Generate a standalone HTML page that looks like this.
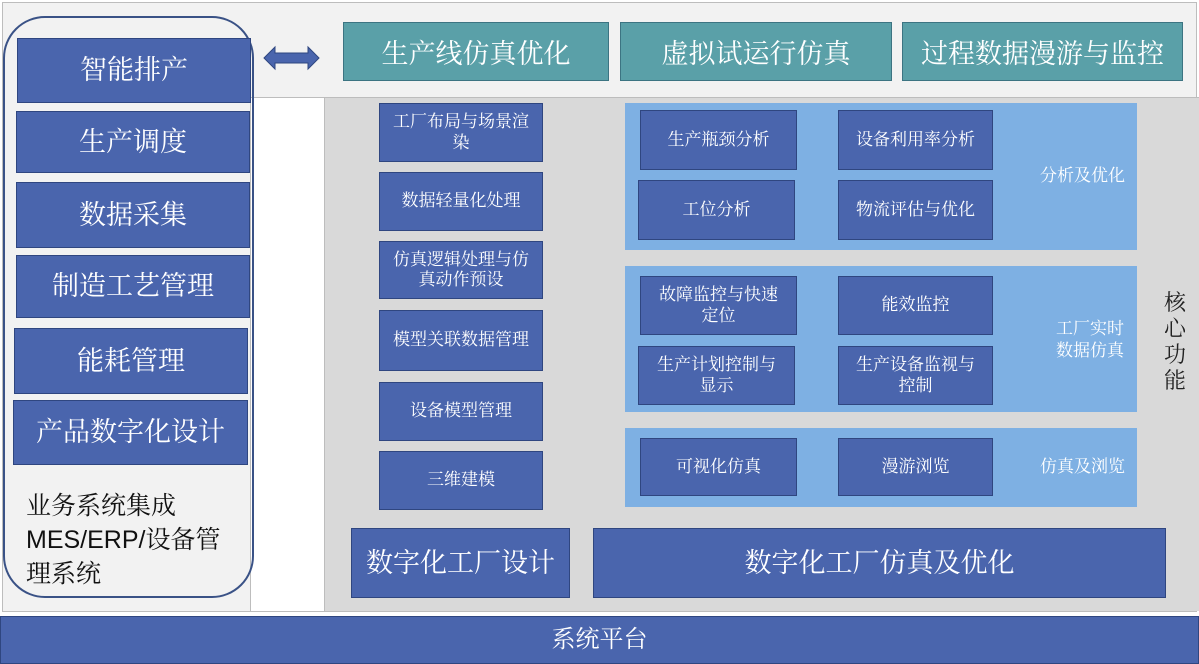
<!DOCTYPE html>
<html><head><meta charset="utf-8"><style>
body{margin:0;width:1199px;height:664px;position:relative;background:#fff;font-family:"Liberation Serif","Noto Serif CJK SC",serif;overflow:hidden}
.a{position:absolute;box-sizing:border-box}
.b{background:#4a65ad;border:1px solid #2f4680;color:#fff;display:flex;align-items:center;justify-content:center;text-align:center;line-height:1.2}
.t{background:#5aa0a8;border:1px solid #3c7482;color:#fff;display:flex;align-items:center;justify-content:center;font-size:27px}
.lb{background:#7eb0e3}
.lab{color:#fff;font-size:17px;text-align:center;line-height:1.3}
.s{font-size:17px}
.L{font-size:27px}
</style></head><body>
<div class="a" style="left:2px;top:2px;width:1195px;height:610px;background:#f2f2f2;border:1px solid #bdbdbd"></div>
<div class="a" style="left:250px;top:97px;width:75px;height:514px;background:#fff;border-top:1px solid #bdbdbd;border-left:1px solid #bdbdbd"></div>
<div class="a" style="left:324px;top:97px;width:875px;height:514px;background:#d9d9d9;border-top:1px solid #bdbdbd;border-left:1px solid #bdbdbd"></div>
<div class="a" style="left:3px;top:16px;width:251px;height:582px;border:2px solid #3a5286;border-radius:42px"></div>

<div class="a b L" style="left:17px;top:38px;width:234px;height:65px">智能排产</div>
<div class="a b L" style="left:16px;top:111px;width:234px;height:62px">生产调度</div>
<div class="a b L" style="left:16px;top:182px;width:234px;height:66px">数据采集</div>
<div class="a b L" style="left:16px;top:255px;width:234px;height:63px">制造工艺管理</div>
<div class="a b L" style="left:14px;top:328px;width:234px;height:66px">能耗管理</div>
<div class="a b L" style="left:13px;top:400px;width:235px;height:65px">产品数字化设计</div>
<div class="a" style="left:26px;top:490px;width:215px;font-size:25px;line-height:32px;color:#111;font-family:'Liberation Sans','Noto Serif CJK SC',sans-serif">业务系统集成<br>MES/ERP/<span style="font-family:'Noto Serif CJK SC',serif">设备管</span><br><span style="font-family:'Noto Serif CJK SC',serif">理系统</span></div>

<svg class="a" style="left:262px;top:45px" width="60" height="26"><polygon points="2,13 13,2 13,8 46,8 46,2 57,13 46,24 46,18 13,18 13,24" fill="#4a65ad" stroke="#2f4680"/></svg>

<div class="a t" style="left:343px;top:22px;width:266px;height:59px">生产线仿真优化</div>
<div class="a t" style="left:620px;top:22px;width:272px;height:59px">虚拟试运行仿真</div>
<div class="a t" style="left:902px;top:22px;width:281px;height:59px">过程数据漫游与监控</div>

<div class="a b s" style="left:379px;top:103px;width:164px;height:59px">工厂布局与场景渲<br>染</div>
<div class="a b s" style="left:379px;top:172px;width:164px;height:59px">数据轻量化处理</div>
<div class="a b s" style="left:379px;top:241px;width:164px;height:58px">仿真逻辑处理与仿<br>真动作预设</div>
<div class="a b s" style="left:379px;top:310px;width:164px;height:61px">模型关联数据管理</div>
<div class="a b s" style="left:379px;top:382px;width:164px;height:59px">设备模型管理</div>
<div class="a b s" style="left:379px;top:451px;width:164px;height:59px">三维建模</div>

<div class="a lb" style="left:625px;top:103px;width:512px;height:147px"></div>
<div class="a lb" style="left:625px;top:266px;width:512px;height:146px"></div>
<div class="a lb" style="left:625px;top:428px;width:512px;height:79px"></div>
<div class="a lab" style="left:1020px;top:165px;width:125px">分析及优化</div>
<div class="a lab" style="left:1030px;top:318px;width:120px">工厂实时<br>数据仿真</div>
<div class="a lab" style="left:1020px;top:456px;width:125px">仿真及浏览</div>

<div class="a b s" style="left:640px;top:110px;width:157px;height:60px">生产瓶颈分析</div>
<div class="a b s" style="left:838px;top:110px;width:155px;height:60px">设备利用率分析</div>
<div class="a b s" style="left:638px;top:180px;width:157px;height:60px">工位分析</div>
<div class="a b s" style="left:838px;top:180px;width:155px;height:60px">物流评估与优化</div>
<div class="a b s" style="left:640px;top:276px;width:157px;height:59px">故障监控与快速<br>定位</div>
<div class="a b s" style="left:838px;top:276px;width:155px;height:59px">能效监控</div>
<div class="a b s" style="left:638px;top:346px;width:157px;height:59px">生产计划控制与<br>显示</div>
<div class="a b s" style="left:838px;top:346px;width:155px;height:59px">生产设备监视与<br>控制</div>
<div class="a b s" style="left:640px;top:438px;width:157px;height:58px">可视化仿真</div>
<div class="a b s" style="left:838px;top:438px;width:155px;height:58px">漫游浏览</div>

<div class="a" style="left:1160px;top:290px;width:30px;font-size:22px;line-height:26px;color:#222;text-align:center">核<br>心<br>功<br>能</div>

<div class="a b L" style="left:351px;top:528px;width:219px;height:70px">数字化工厂设计</div>
<div class="a b L" style="left:593px;top:528px;width:573px;height:70px">数字化工厂仿真及优化</div>

<div class="a b L" style="left:0;top:616px;width:1199px;height:48px;font-size:24px">系统平台</div>
</body></html>
